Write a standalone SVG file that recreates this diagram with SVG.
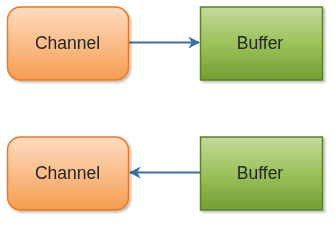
<svg xmlns="http://www.w3.org/2000/svg" width="335" height="227" viewBox="0 0 335 227">
<defs>
<linearGradient id="gOrange" x1="0" y1="0" x2="0" y2="1">
<stop offset="0" stop-color="#FFDCC2"/>
<stop offset="1" stop-color="#F59D50"/>
</linearGradient>
<linearGradient id="gGreen" x1="0" y1="0" x2="0" y2="1">
<stop offset="0" stop-color="#C4DB9C"/>
<stop offset="0.5" stop-color="#9BC25A"/>
<stop offset="1" stop-color="#729F33"/>
</linearGradient>
<filter id="sh" x="-10%" y="-10%" width="125%" height="130%">
<feGaussianBlur in="SourceAlpha" stdDeviation="1"/>
<feOffset dx="1.5" dy="1.5" result="b"/>
<feComponentTransfer><feFuncA type="linear" slope="0.25"/></feComponentTransfer>
<feMerge><feMergeNode/><feMergeNode in="SourceGraphic"/></feMerge>
</filter>
<marker id="arr" viewBox="0 0 10 10" refX="9" refY="5" markerWidth="6" markerHeight="6" orient="auto" markerUnits="strokeWidth">
<path d="M0,0 L10,5 L0,10 L3,5 Z" fill="#3B6EA8"/>
</marker>
</defs>
<style>
.ch{fill:url(#gOrange);stroke:#E8791F;stroke-width:1.5}
.bf{fill:url(#gGreen);stroke:#5C7F2C;stroke-width:1.5}
.t{font-family:"Liberation Sans",Arial,sans-serif;font-size:17.5px;fill:#262626;text-anchor:middle;dominant-baseline:central}
.c{stroke:#3B6EA8;stroke-width:2;fill:none;marker-end:url(#arr)}
</style>
<g id="connectors">
<line class="c" x1="129" y1="42.5" x2="199" y2="42.5"/>
<line class="c" x1="200" y1="172.5" x2="130" y2="172.5"/>
</g>
<g id="channel1" filter="url(#sh)">
<rect class="ch" x="7.5" y="7" width="121" height="73" rx="13"/>
<text class="t" x="67.5" y="43">Channel</text>
</g>
<g id="buffer1" filter="url(#sh)">
<rect class="bf" x="200.5" y="7" width="122" height="73"/>
<text class="t" x="260" y="43">Buffer</text>
</g>
<g id="channel2" filter="url(#sh)">
<rect class="ch" x="7.5" y="137" width="121" height="73" rx="13"/>
<text class="t" x="67.5" y="173">Channel</text>
</g>
<g id="buffer2" filter="url(#sh)">
<rect class="bf" x="200.5" y="137" width="122" height="73"/>
<text class="t" x="260" y="173">Buffer</text>
</g>
</svg>
